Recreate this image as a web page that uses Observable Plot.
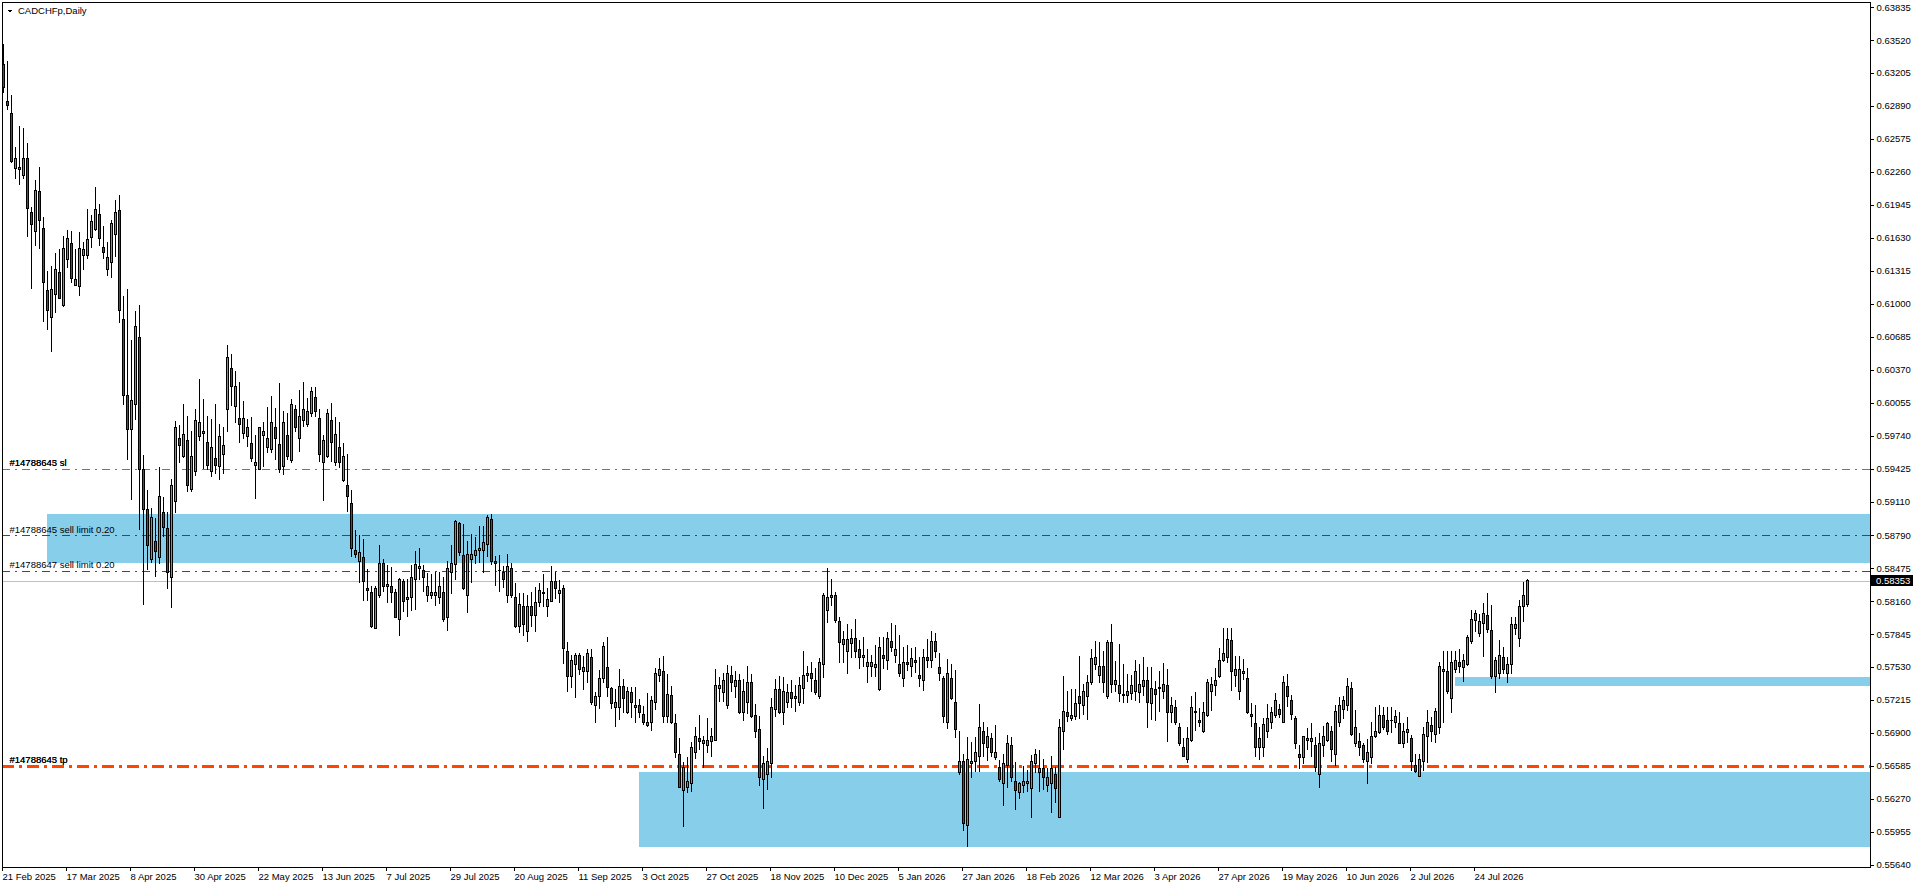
<!DOCTYPE html>
<html><head><meta charset="utf-8">
<script src="https://cdn.jsdelivr.net/npm/d3@7"></script>
<script src="https://cdn.jsdelivr.net/npm/@observablehq/plot@0.6"></script>
<style>
html,body{margin:0;padding:0;background:#fff;}
#chart{width:1916px;height:888px;overflow:hidden;}
</style></head><body><div id="chart"></div>
<script>
const symbolTitle = "CADCHFp,Daily";

// Daily OHLC in points (1 point = 0.00001)
const openPts = [63281,62928,62820,62294,62284,62227,62390,61874,61692,62075,61721,61128,60870,61093,61300,60981,61425,61578,61172,61163,
61463,61459,61635,61705,61855,61539,61329,61396,61664,61893,60854,60128,59794,60033,60673,59412,59030,58561,58727,58580,
59010,58848,58380,59115,59717,59536,59698,59230,59402,59727,59756,59670,59402,59526,59441,59564,59985,60377,60023,59908,
59765,59727,59660,59459,59421,59737,59631,59612,59813,59651,59441,59737,59498,59985,59708,59880,59842,59947,60109,59899,
59488,59536,59889,59488,59631,59316,59268,59087,58638,58533,58580,58275,58246,57902,58217,58523,58294,58303,58237,57979,
58351,58170,58198,58361,58466,58456,58208,58217,58208,58198,58246,58007,58437,58504,58905,58599,58208,58561,58599,58647,
58647,58704,58934,58542,58456,58437,58208,58475,58189,57921,58112,57864,58112,58017,58141,58227,58103,58160,58342,58227,
58275,57673,57434,57558,57644,57482,57482,57616,57157,57243,57415,57520,57320,57147,57147,57339,57090,57282,57138,57157,
57071,56966,56995,57186,57453,57482,57052,57253,56985,56689,56345,56383,56412,56717,56842,56803,56775,56813,56832,57320,
57282,57157,57453,57339,57396,57099,57186,57377,57062,56928,56450,56507,56603,57128,57310,57099,57186,57282,57224,57186,
57320,57444,57472,57405,57243,57549,58074,58189,58208,57960,57740,57682,57750,57797,57692,57616,57530,57530,57520,57310,
57644,57587,57769,57644,57558,57415,57568,57539,57596,57444,57396,57625,57596,57769,57520,57415,56995,57424,57195,56517,
56622,56011,56612,56622,56679,56909,56756,56842,56669,56574,56421,56593,56784,56431,56335,56402,56421,56364,56603,56517,
56555,56402,56412,56498,56096,56909,57090,57033,57052,57243,57157,57243,57377,57558,57444,57530,57243,57759,57367,57348,
57262,57253,57272,57291,57282,57339,57405,57176,57310,57320,57300,57348,57090,57147,56947,56756,56650,56832,57109,57014,
56909,57062,57300,57348,57434,57587,57616,57778,57444,57300,57472,57415,57071,56985,56756,56756,56909,56995,57062,57119,
57004,57339,57205,57033,56698,56669,56823,56813,56784,56498,56775,56832,56909,56689,56995,57128,57157,57320,56794,56813,
56775,56622,56669,56861,56899,57062,57023,57014,56995,56985,56794,56899,56851,56584,56488,56622,56870,56966,56889,56947,
57491,57491,57233,57510,57577,57520,57558,57769,57969,57845,57941,58026,57874,57434,57463,57625,57472,57558,57893,57797,
58103,58131];
const highPts = [63482,63319,62994,62495,62698,62676,62533,61928,62182,62306,61829,61313,61358,61482,61523,61647,61702,61695,61520,61686,
61593,61902,61848,62115,61950,61743,61587,61797,61988,62039,61074,61141,60654,60931,60988,59555,59221,59049,58953,59440,
59154,59010,59326,59880,59842,60042,59928,59784,59994,60281,60090,59928,59899,60042,59851,59822,60606,60520,60358,60252,
60071,59899,59918,59746,59822,59870,60014,60119,60004,60243,59975,59956,60090,60033,60176,60252,60100,60205,60205,59994,
59746,59994,60052,59918,59870,59670,59564,59221,58838,58791,58752,58466,58303,58303,58695,58561,58504,58485,58275,58380,
58370,58370,58504,58638,58666,58504,58428,58418,58437,58437,58389,58542,58695,58934,58915,58896,58733,58800,58771,58877,
58877,58982,58991,58590,58599,58494,58609,58523,58332,58237,58237,58217,58246,58294,58332,58418,58284,58494,58437,58361,
58313,57768,57644,57663,57663,57635,57702,57702,57291,57501,57768,57816,57339,57320,57510,57415,57339,57339,57339,57224,
57157,57282,57253,57520,57616,57635,57463,57348,57080,56851,56622,56669,56813,56956,57071,56870,57042,56947,57510,57434,
57472,57549,57539,57491,57463,57415,57539,57463,57176,57062,56679,56756,57234,57415,57444,57434,57367,57405,57358,57434,
57682,57539,57577,57520,57616,58237,58476,58370,58246,58007,57874,57941,57893,57988,57788,57816,57702,57644,57740,57816,
57816,57864,57950,57931,57835,57721,57740,57711,57721,57625,57702,57797,57874,57854,57663,57444,57606,57558,57501,56918,
56698,56861,56813,56861,57176,57004,56956,56899,56976,56641,56698,56880,56861,56622,56431,56584,56545,56689,56746,56736,
56650,56565,56679,56574,57033,57444,57300,57320,57320,57635,57367,57453,57702,57778,57769,57682,57788,57941,57587,57750,
57558,57463,57453,57596,57558,57625,57530,57530,57396,57491,57568,57510,57243,57214,56995,56851,56956,57253,57291,57138,
57195,57415,57434,57520,57711,57902,57902,57902,57635,57635,57606,57520,57186,57167,56956,57042,57176,57147,57282,57176,
57444,57463,57262,57062,56784,56870,56947,56995,56861,56899,56966,57004,56966,57167,57243,57253,57424,57386,57119,56899,
56803,56842,57004,57147,57167,57147,57147,57147,57119,57099,56995,57052,56880,56698,56698,56956,57119,57052,57138,57577,
57682,57682,57682,57682,57702,57654,57835,58074,58074,58036,58141,58237,58122,57625,57788,57721,57625,58007,58007,58170,
58342,58370];
const lowPts = [63016,62851,62348,62195,62135,62195,61641,61144,61552,61526,60826,60752,60542,60914,61045,60966,61344,61195,61168,61074,
61322,61430,61530,61698,61555,61425,61268,61243,61450,60819,60033,59507,59125,59889,58838,58122,58456,58523,58392,58514,
58772,58275,58093,59001,59479,59526,59201,59201,59354,59689,59421,59412,59345,59373,59316,59373,59775,60023,59861,59670,
59708,59631,59488,59135,59412,59441,59574,59574,59507,59383,59364,59507,59479,59775,59584,59822,59822,59918,59918,59488,
59115,59526,59488,59450,59431,59297,59010,58580,58571,58332,58160,58160,57902,57893,58189,58246,58141,58141,57998,57826,
58055,58007,58065,58074,58361,58246,58151,58179,58112,58131,57959,57873,58227,58361,58590,58265,58045,58332,58514,58523,
58428,58580,58504,58303,58246,58284,58141,58189,57902,57854,57826,57768,57912,57864,58103,58103,58007,58150,58179,58141,
57558,57291,57329,57233,57453,57310,57377,57166,56995,57128,57377,57243,57128,56956,57023,57090,57080,57042,56995,57042,
56976,56956,56918,57119,57386,56995,56995,56985,56660,56373,56001,56326,56335,56650,56736,56565,56708,56669,56823,57195,
57195,57128,57291,57233,57080,57014,57080,57042,56851,56393,56173,56354,56469,57052,57080,56976,57138,57138,57099,57157,
57176,57386,57291,57262,57224,57424,57950,58112,57950,57568,57568,57463,57616,57616,57510,57530,57377,57434,57434,57300,
57510,57501,57673,57568,57434,57339,57491,57434,57472,57339,57300,57520,57520,57616,57396,56995,56937,57214,56851,56498,
55963,55810,56469,56527,56527,56669,56631,56669,56641,56431,56202,56373,56431,56163,56268,56325,56335,56087,56517,56335,
56354,56335,56135,56230,56087,56736,57004,57014,57023,57033,57071,57023,57358,57501,57377,57282,57224,57282,57291,57195,
57186,57186,57214,57205,57186,57253,56947,57023,57014,57099,57224,56813,56995,56976,56775,56669,56612,56813,56918,56956,
56899,57052,57109,57253,57424,57577,57568,57300,57339,57214,57405,57080,56956,56669,56641,56669,56851,56937,57042,57042,
56995,57147,57023,56746,56555,56603,56736,56669,56527,56373,56669,56813,56622,56584,56956,57033,57109,56870,56765,56679,
56612,56412,56603,56851,56889,56928,56880,56899,56947,56794,56756,56803,56536,56517,56478,56536,56612,56813,56803,56889,
56995,57272,57090,57472,57472,57386,57539,57750,57864,57816,57625,57854,57415,57282,57415,57463,57377,57463,57835,57721,
57960,58103];
const closePts = [63064,62892,62357,62390,62306,62390,61912,61755,62084,61797,61201,60937,61138,61329,61052,61530,61625,61243,61234,61530,
61514,61616,61781,61902,61625,61492,61444,61769,61874,60937,60128,59794,60080,60787,59412,59030,58695,58953,58631,59163,
58867,58428,59268,59813,59641,59746,59259,59545,59880,59861,59775,59450,59631,59450,59727,59641,60491,60205,60214,59851,
59908,59813,59517,59488,59813,59784,59708,59861,59708,59412,59870,59536,60042,59822,59918,59994,59966,60157,59966,59564,
59698,59947,59670,59746,59479,59536,59154,58666,58609,58628,58342,58265,57912,58275,58523,58303,58322,58246,58007,58370,
58160,58198,58389,58504,58485,58389,58294,58237,58246,58294,57979,58466,58514,58915,58619,58284,58609,58609,58647,58666,
58723,58953,58542,58523,58447,58370,58485,58208,57921,58122,57931,58112,58017,58141,58256,58246,58179,58351,58275,58265,
57702,57434,57587,57644,57510,57520,57663,57186,57243,57415,57721,57329,57176,57195,57339,57224,57300,57186,57166,57099,
56995,56995,57205,57463,57501,57052,57262,56995,56708,56383,56565,56431,56765,56861,56813,56832,56832,56870,57348,57348,
57405,57472,57377,57405,57090,57300,57386,57052,56918,56469,56612,56622,57138,57310,57099,57291,57282,57233,57243,57348,
57453,57472,57415,57282,57568,58217,58198,58217,57969,57759,57788,57788,57797,57682,57616,57635,57577,57568,57558,57711,
57606,57797,57711,57692,57463,57577,57549,57606,57568,57424,57625,57587,57769,57673,57463,57052,57472,57224,56937,56631,
56030,56641,56631,56717,56956,56803,56861,56717,56708,56459,56612,56803,56469,56354,56412,56440,56431,56622,56689,56555,
56469,56478,56555,56364,56947,57109,57052,57062,57176,57176,57291,57377,57606,57625,57530,57377,57759,57367,57396,57272,
57253,57300,57348,57482,57358,57405,57195,57320,57262,57329,57358,57099,57166,57004,56803,56679,56851,57147,57090,56995,
57090,57377,57358,57405,57596,57654,57788,57491,57510,57501,57482,57090,57052,56756,56842,56976,57042,57099,57214,57071,
57377,57243,57080,56794,56669,56861,56851,56842,56574,56803,56861,56985,56746,57109,57157,57205,57339,56889,56956,56765,
56641,56717,56870,56909,57062,56956,56909,57023,57052,56803,56909,56928,56631,56527,56650,56880,57004,56918,57109,57539,
57510,57300,57577,57587,57530,57587,57807,57979,58045,57960,58036,57883,57434,57596,57644,57510,57558,57931,57931,58112,
58217,58353];

const dateTickIdx = [0,16,32,48,64,80,96,112,128,144,160,176,192,208,224,240,256,272,288,304,320,336,352,368];
const dateLabels = ["21 Feb 2025","17 Mar 2025","8 Apr 2025","30 Apr 2025","22 May 2025","13 Jun 2025","7 Jul 2025","29 Jul 2025",
"20 Aug 2025","11 Sep 2025","3 Oct 2025","27 Oct 2025","18 Nov 2025","10 Dec 2025","5 Jan 2026","27 Jan 2026","18 Feb 2026",
"12 Mar 2026","3 Apr 2026","27 Apr 2026","19 May 2026","10 Jun 2026","2 Jul 2026","24 Jul 2026"];
const priceTicks = [0.63835,0.63520,0.63205,0.62890,0.62575,0.62260,0.61945,0.61630,0.61315,0.61000,0.60685,0.60370,0.60055,
0.59740,0.59425,0.59110,0.58790,0.58475,0.58160,0.57845,0.57530,0.57215,0.56900,0.56585,0.56270,0.55955,0.55640];

// order lines
const lineLabels = ["#14788643 sl","#14788645 sell limit 0.20","#14788647 sell limit 0.20","#14788643 tp"];
const lineLabelsOverlap = ["#14788645 sl","","","#14788645 tp"];
const linePrices = [0.59425,0.58790,0.58450,0.56585];
const lineKinds = ["stop","limit","limit","take"];
const bidPrice = 0.58353;

// rectangles (zones)
const zoneStart = [11,159,363];
const zoneTop = [0.58990,0.56526,0.57434];
const zoneBottom = [0.58525,0.55813,0.57348];

const candles = openPts.map((o,i)=>({i, open:o/1e5, high:highPts[i]/1e5, low:lowPts[i]/1e5, close:closePts[i]/1e5}));
const zones = zoneStart.map((s,k)=>({start:s, top:zoneTop[k], bottom:zoneBottom[k]}));
const lines = linePrices.map((p,k)=>({price:p, label:lineLabels[k], label2:lineLabelsOverlap[k], kind:lineKinds[k]}));

const W=1916, H=888, mL=2, mR=46, mT=2, mB=21;
const barStep = 4;
const xMin = -0.25, xMax = xMin + (W-mL-mR)/barStep;
const pxPerUnit = 10467;
const yMax = 0.63835 + 5/pxPerUnit, yMin = yMax - (H-mT-mB)/pxPerUnit;
const FONT = "'Liberation Sans', Arial, sans-serif";
const GREEN = "#2ecc2e", RED = "#d01a1a", ORANGE = "#FF4500", DKGREEN = "#007a00";

const chart = Plot.plot({
  width: W, height: H, marginLeft: mL, marginRight: mR, marginTop: mT, marginBottom: mB,
  style: {fontFamily: FONT, fontSize: "9.5px", color: "#000", background: "#fff", shapeRendering: "crispEdges"},
  x: {type: "linear", domain: [xMin, xMax], axis: null},
  y: {type: "linear", domain: [yMin, yMax], axis: null},
  marks: [
    Plot.rect(zones, {x1: "start", x2: () => xMax, y1: "bottom", y2: "top", fill: "#87CEEB"}),
    Plot.ruleY([bidPrice], {stroke: "#C0C0C0", strokeWidth: 1}),
    Plot.ruleY(lines.filter(d=>d.kind==="stop"), {y: "price", stroke: ORANGE, strokeWidth: 1, strokeDasharray: "8,5,2,5"}),
    Plot.ruleY(lines.filter(d=>d.kind==="limit"), {y: "price", stroke: DKGREEN, strokeWidth: 1, strokeDasharray: "8,5,2,5"}),
    Plot.ruleY(lines.filter(d=>d.kind==="take"), {y: "price", stroke: ORANGE, strokeWidth: 3, strokeDasharray: "12,5,3,5"}),
    Plot.text(lines, {y: "price", text: "label", frameAnchor: "left", dx: 7, dy: -6, textAnchor: "start", fill: "#000", fontSize: 9.5}),
    Plot.text(lines.filter(d=>d.label2), {y: "price", text: "label2", frameAnchor: "left", dx: 7, dy: -6, textAnchor: "start", fill: "#000", fontSize: 9.5}),
    Plot.ruleX(candles, {x: "i", y1: "low", y2: "high", stroke: "#000", strokeWidth: 1}),
    Plot.rect(candles, {x1: d => d.i - 0.375, x2: d => d.i + 0.375, y1: "open", y2: "close", fill: "#000", insetTop: -0.5, insetBottom: -0.5}),
    Plot.rect(candles, {x1: d => d.i - 0.125, x2: d => d.i + 0.125, y1: "open", y2: "close",
      fill: d => d.close >= d.open ? GREEN : RED, insetTop: 0.5, insetBottom: 0.5}),
    Plot.frame({stroke: "#000"}),
    Plot.axisY(priceTicks, {anchor: "right", tickSize: 3, tickPadding: 3, tickFormat: d3.format(".5f"), textAnchor: "start", fontSize: 9.5, label: null}),
    Plot.axisX(dateTickIdx, {anchor: "bottom", tickSize: 4, tickPadding: 2, textAnchor: "start", dx: -1, fontSize: 9.5, label: null,
      tickFormat: d => dateLabels[dateTickIdx.indexOf(d)]})
  ]
});

// title, symbol triangle and bid price box
const svg = d3.select(chart);
svg.append("path").attr("d", "M6.5,9.5 L12.5,9.5 L9.5,12.5 Z").attr("fill", "#000");
svg.append("text").attr("x", 18).attr("y", 14).attr("text-anchor", "start")
  .attr("font-family", FONT).attr("font-size", 9.5).attr("fill", "#000").text(symbolTitle);
const yb = chart.scale("y").apply(bidPrice);
svg.append("rect").attr("x", W - mR).attr("y", yb - 5.5).attr("width", 43).attr("height", 11).attr("fill", "#000");
svg.append("text").attr("x", W - mR + 6).attr("y", yb + 3.5).attr("text-anchor", "start")
  .attr("font-family", FONT).attr("font-size", 9.5).attr("fill", "#fff").text(d3.format(".5f")(bidPrice));

document.getElementById("chart").appendChild(chart);
</script></body></html>
